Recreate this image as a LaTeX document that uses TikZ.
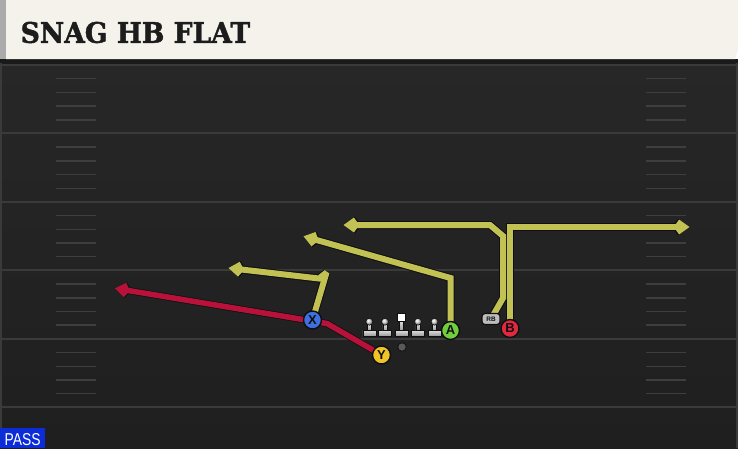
\documentclass[tikz,border=0pt]{standalone}
\usepackage{fontspec}
\setmainfont{Liberation Sans}
\newfontfamily\titlefont{DejaVu Serif}[BoldFeatures={FakeBold=1.6}]
\usetikzlibrary{arrows.meta}
\definecolor{cream}{HTML}{F4F2EB}
\definecolor{leftstrip}{HTML}{ABABAB}
\definecolor{fieldtop}{HTML}{272727}
\definecolor{fieldbot}{HTML}{1F1F1F}
\definecolor{shadowband}{HTML}{1A1A1A}
\definecolor{yardc}{HTML}{3A3A3A}
\definecolor{hashc}{HTML}{3E3E3E}
\definecolor{routey}{RGB}{194,194,84}
\definecolor{router}{RGB}{184,18,58}
\definecolor{outl}{HTML}{0F0F12}
\definecolor{pblue}{RGB}{62,112,222}
\definecolor{pyellow}{RGB}{240,196,40}
\definecolor{pgreen}{RGB}{112,206,60}
\definecolor{pred}{RGB}{226,40,62}
\definecolor{lmlight}{HTML}{DCDCDC}
\definecolor{lmdark}{HTML}{9A9A9A}
\definecolor{rbgray}{HTML}{BDBDBD}
\definecolor{passblue}{RGB}{12,44,216}
\definecolor{titlec}{HTML}{1C1C1C}
\begin{document}
\begin{tikzpicture}[x=1pt,y=-1pt,
  yardline/.style={draw=yardc, line width=2pt},
  hashmark/.style={draw=hashc, line width=1.5pt},
  ybase/.style={draw=outl, line width=8pt, line join=miter, miter limit=2.5,
     -{Straight Barb[length=7pt,width=10pt,line width=8pt]}},
  ytop/.style={draw=routey, line width=6pt, line join=miter, miter limit=2.5,
     -{Straight Barb[length=7pt,width=10pt,line width=6pt]}},
  rbase/.style={draw=outl, line width=7pt, line join=miter, miter limit=2.5,
     -{Straight Barb[length=7pt,width=10pt,line width=7pt]}},
  rtop/.style={draw=router, line width=5.5pt, line join=miter, miter limit=2.5,
     -{Straight Barb[length=7pt,width=10pt,line width=5.5pt]}},
  player/.style={circle, minimum size=18pt, inner sep=0pt, draw=outl, line width=1.4pt,
     text=outl, font=\fontsize{13}{13}\selectfont\bfseries},
  rbbadge/.style={rounded corners=3pt, minimum width=18pt, minimum height=11pt, inner sep=0pt,
     fill=rbgray, draw=outl, line width=1.2pt, text=outl, font=\fontsize{6.5}{6.5}\selectfont\bfseries},
  lineman/.pic={
    \shade[top color=lmlight, bottom color=lmdark, draw=outl, line width=0.6pt] (-6.5,-5.5) rectangle (6.5,0);
    \shade[top color=lmlight, bottom color=lmdark, draw=outl, line width=0.6pt] (-2.2,-11.5) rectangle (2.2,-5.5);
    \shade[ball color=lmlight, draw=outl, line width=0.6pt] (0,-14.3) circle (3.5);
  },
  centerman/.pic={
    \shade[top color=lmlight, bottom color=lmdark, draw=outl, line width=0.6pt] (-6.5,-5.5) rectangle (6.5,0);
    \shade[top color=lmlight, bottom color=lmdark, draw=outl, line width=0.6pt] (-2.2,-15.3) rectangle (2.2,-5.5);
    \fill[white, draw=outl, line width=0.6pt] (-3.8,-22.4) rectangle (3.8,-15.1);
  }
]
\useasboundingbox (0,0) rectangle (738,448);
% field
\shade[top color=fieldtop, bottom color=fieldbot] (0,59) rectangle (738,448);
\fill[shadowband] (0,59) rectangle (738,63.5);
\draw[yardc, line width=2pt] (1,63) -- (1,448);
\draw[yardc, line width=2pt] (737,63) -- (737,448);
% yard lines and hash marks
\foreach \k in {0,...,5} {
  \draw[yardline] (0,65+68.47*\k) -- (738,65+68.47*\k);
}
\foreach \k in {0,...,4} {
  \foreach \f in {13.7,27.4,41.1,54.8} {
    \draw[hashmark] (56,65+68.47*\k+\f) -- (96,65+68.47*\k+\f);
    \draw[hashmark] (646,65+68.47*\k+\f) -- (686,65+68.47*\k+\f);
  }
}
% header
\fill[leftstrip] (0,0) rectangle (6,59);
\fill[cream] (6,0) -- (738,0) -- (738,50) -- (735,59) -- (6,59) -- cycle;
\node[anchor=base west, inner sep=0pt, text=titlec] (title) at (20.5,42.8)
  {\resizebox{229.5pt}{21pt}{\titlefont\bfseries SNAG HB FLAT}};
% pass badge
\fill[passblue] (0,428) rectangle (45,448);
\node[anchor=base west, inner sep=0pt, text=white] (pass) at (4.5,445)
  {\resizebox{36pt}{12pt}{PASS}};
% player positions
\coordinate (pX) at (312.5,320);
\coordinate (pY) at (381.5,355);
\coordinate (pA) at (450.5,330.5);
\coordinate (pB) at (510,328.5);
\coordinate (pRB) at (491,319);
% route points
\coordinate (r1) at (327,323.5);
\coordinate (r1e) at (115,288.3);
\coordinate (x1) at (326.5,272.5);
\coordinate (x2) at (319,278.5);
\coordinate (x1e) at (228.5,268);
\coordinate (a1) at (450.5,278);
\coordinate (a1e) at (303.5,236.3);
\coordinate (b1) at (503,298);
\coordinate (b2) at (503,236);
\coordinate (b3) at (490,225);
\coordinate (b1e) at (343.5,225);
\coordinate (c1) at (510,227);
\coordinate (c1e) at (689.5,227);
% routes (outline pass)
\draw[rbase] (pY) -- (r1) -- (r1e);
\draw[ybase] (pX) -- (x1) -- (x2) -- (x1e);
\draw[ybase] (pA) -- (a1) -- (a1e);
\draw[ybase] (pRB) -- (b1) -- (b2) -- (b3) -- (b1e);
\draw[ybase] (pB) -- (c1) -- (c1e);
% routes (colour pass)
\draw[rtop] (pY) -- (r1) -- (r1e);
\draw[ytop] (pX) -- (x1) -- (x2) -- (x1e);
\draw[ytop] (pA) -- (a1) -- (a1e);
\draw[ytop] (pRB) -- (b1) -- (b2) -- (b3) -- (b1e);
\draw[ytop] (pB) -- (c1) -- (c1e);
% offensive line
\pic at (369.3,336) {lineman};
\pic at (385,336) {lineman};
\pic at (401.5,336) {centerman};
\pic at (418,336) {lineman};
\pic at (434.5,336) {lineman};
% ball
\node[circle, minimum size=8.5pt, inner sep=0pt, fill=gray!70!black, draw=outl, line width=0.8pt] (ball) at (402,347) {};
% players
\node[player, fill=pblue] (X) at (pX) {X};
\node[player, fill=pyellow] (Y) at (pY) {Y};
\node[player, fill=pgreen] (A) at (pA) {A};
\node[player, fill=pred] (B) at (pB) {B};
\node[rbbadge] (RB) at (pRB) {RB};
\end{tikzpicture}
\end{document}
